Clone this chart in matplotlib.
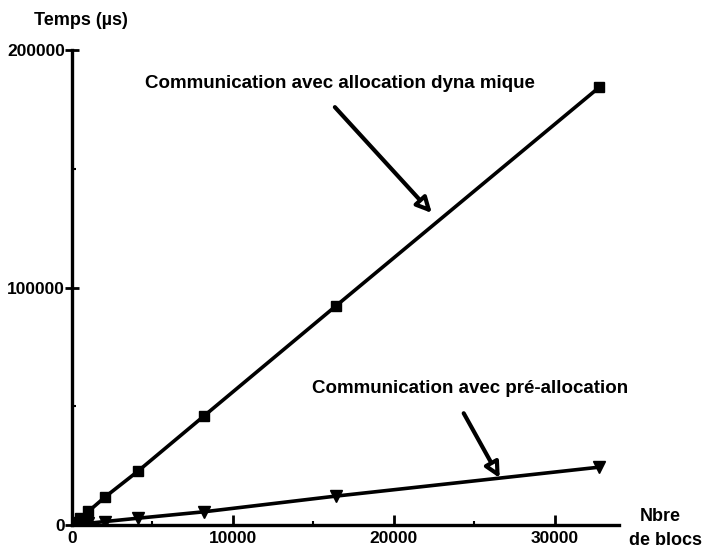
import matplotlib.pyplot as plt
from matplotlib.ticker import MultipleLocator

plt.rcParams['font.family'] = ['Liberation Sans', 'DejaVu Sans']

# Nombre de blocs et temps mesures (micro-secondes)
nb_blocs = [128, 256, 512, 1024, 2048, 4096, 8192, 16384, 32768]
t_dynamique = [720, 1440, 2900, 5800, 11800, 22700, 45900, 92200, 184400]
t_prealloc = [100, 190, 380, 760, 1500, 2900, 5600, 12200, 24400]

fig = plt.figure(figsize=(7.06, 5.51), dpi=100)
ax = fig.add_axes([0.102, 0.047, 0.775, 0.862])

ax.plot(nb_blocs, t_dynamique, color='black', lw=2.6, marker='s', ms=7)
ax.plot(nb_blocs, t_prealloc, color='black', lw=2.6, marker='v', ms=8)

ax.set_xlim(0, 34000)
ax.set_ylim(0, 200000)
for s in ['top', 'right']:
    ax.spines[s].set_visible(False)
ax.spines['left'].set_linewidth(2.4)
ax.spines['bottom'].set_linewidth(2.4)

ax.xaxis.set_major_locator(MultipleLocator(10000))
ax.xaxis.set_minor_locator(MultipleLocator(5000))
ax.yaxis.set_major_locator(MultipleLocator(100000))
ax.yaxis.set_minor_locator(MultipleLocator(50000))
ax.tick_params(axis='x', which='major', direction='in', length=7, width=2, pad=4, labelsize=12.5)
ax.tick_params(axis='x', which='minor', direction='in', length=3, width=1.5)
ax.tick_params(axis='y', which='major', direction='inout', length=10, width=2, pad=0, labelsize=12.5)
ax.tick_params(axis='y', which='minor', direction='in', length=3, width=1.5)
for lab in ax.get_xticklabels() + ax.get_yticklabels():
    lab.set_fontweight('bold')

fig.text(0.115, 0.955, 'Temps (\u00b5s)', fontsize=13, fontweight='bold', ha='center')
fig.text(0.935, 0.055, 'Nbre', fontsize=13, fontweight='bold', ha='center')
fig.text(0.942, 0.01, 'de blocs', fontsize=13, fontweight='bold', ha='center')

ax.text(16650, 186100, 'Communication avec allocation dyna mique', fontsize=13.5,
        fontweight='bold', ha='center', va='center')
ax.text(24720, 57700, 'Communication avec pré-allocation', fontsize=13.5,
        fontweight='bold', ha='center', va='center')

arrow = dict(arrowstyle='-|>,head_length=0.9,head_width=0.45', lw=3,
             color='black', fc='white', shrinkA=0, shrinkB=0)
ax.annotate('', xy=(22360, 131400), xytext=(16335, 176000), arrowprops=arrow)
ax.annotate('', xy=(26580, 19800), xytext=(24340, 47100), arrowprops=arrow)

fig.savefig('out.png', dpi=100)
